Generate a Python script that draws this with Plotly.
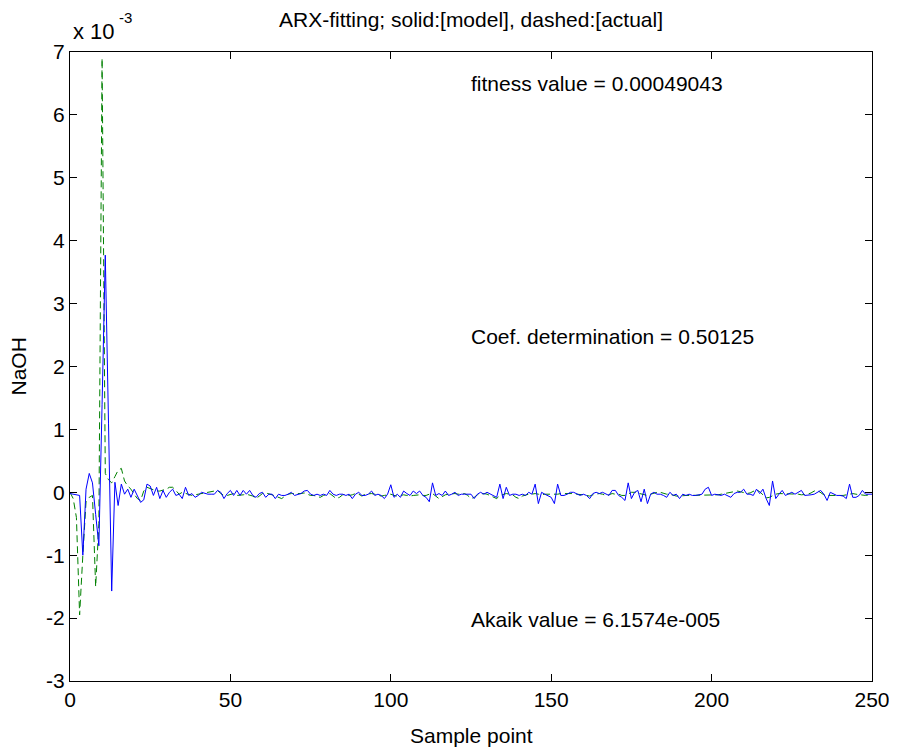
import plotly.graph_objects as go

# sample index
samples = list(range(0, 251))

# model output (solid blue), units of 1e-3
model = [
    -0.02, -0.03, -0.04, -0.05, -1.00, 0.05, 0.30, 0.15, -0.35, -0.85,
    1.40, 3.77, 1.10, -1.57, 0.16, -0.21, 0.13, -0.03, 0.05, -0.08,
    0.05, -0.05, -0.16, -0.12, 0.13, 0.10, -0.05, 0.08, -0.10, 0.03,
    -0.08, 0.00, 0.05, -0.05, -0.03, -0.10, 0.08, -0.05, -0.02, -0.08,
    -0.05, 0.00, -0.02, -0.03, -0.03, -0.03, 0.03, 0.00, -0.10, -0.02,
    0.03, -0.05, 0.03, -0.05, 0.03, -0.03, 0.03, -0.05, -0.08, -0.02,
    0.00, -0.08, -0.03, -0.03, -0.10, -0.03, -0.05, -0.05, -0.03, 0.00,
    -0.05, -0.03, -0.02, 0.02, 0.03, -0.03, -0.05, -0.03, -0.05, -0.03,
    -0.05, 0.03, -0.03, -0.05, -0.03, -0.03, -0.05, -0.03, -0.10, -0.03,
    0.00, -0.05, -0.05, -0.03, 0.02, -0.05, -0.03, -0.05, -0.10, -0.03,
    0.12, -0.08, -0.03, -0.08, 0.02, -0.02, -0.05, 0.02, -0.02, 0.02,
    -0.05, -0.08, -0.15, 0.15, -0.05, -0.02, -0.05, 0.02, -0.05, -0.03,
    0.00, -0.05, -0.03, -0.03, -0.03, -0.03, -0.10, -0.03, 0.00, -0.03,
    0.00, -0.03, -0.05, -0.08, 0.13, -0.10, 0.08, -0.05, -0.03, -0.03,
    -0.05, -0.03, -0.05, 0.00, -0.03, 0.13, -0.18, 0.00, -0.03, -0.05,
    -0.08, -0.18, 0.13, -0.05, -0.05, -0.03, 0.00, 0.00, -0.03, -0.05,
    -0.03, -0.05, -0.10, -0.02, 0.00, -0.02, 0.00, -0.03, -0.05, 0.03,
    0.03, -0.05, -0.08, -0.13, 0.15, -0.10, 0.00, 0.03, -0.15, 0.05,
    -0.18, -0.03, 0.00, -0.03, -0.03, -0.05, -0.08, 0.00, -0.05, -0.03,
    -0.10, -0.03, -0.05, -0.03, -0.05, -0.05, -0.04, -0.03, 0.05, 0.08,
    -0.05, -0.03, -0.04, -0.05, -0.03, -0.05, -0.08, -0.02, 0.00, 0.00,
    0.05, -0.03, -0.03, -0.05, 0.05, -0.02, 0.05, -0.10, -0.21, 0.18,
    -0.10, -0.03, 0.03, -0.05, -0.03, 0.00, -0.03, 0.00, 0.03, -0.05,
    -0.05, -0.04, -0.03, 0.00, 0.03, -0.03, -0.13, 0.00, -0.03, -0.05,
    -0.05, -0.06, -0.10, 0.13, -0.08, -0.08, -0.05, 0.03, -0.03, -0.03,
    -0.03,
]

# measured output (dashed green), units of 1e-3
actual = [
    0.00, -0.10, -0.40, -1.95, -1.00, -0.15, -0.08, -0.05, -1.50, -0.50,
    6.90, 0.30, 0.20, 0.15, 0.25, 0.35, 0.38, 0.18, 0.10, 0.05,
    -0.03, -0.10, -0.13, 0.02, 0.08, 0.06, 0.03, 0.02, 0.02, 0.03,
    0.05, 0.08, 0.08, 0.03, -0.03, 0.00, -0.02, -0.04, -0.05, -0.04,
    -0.03, -0.03, -0.02, -0.01, 0.01, 0.02, 0.03, -0.02, -0.05, -0.05,
    -0.03, -0.02, -0.05, -0.05, -0.04, -0.03, -0.04, -0.06, -0.10, -0.06,
    -0.02, -0.01, -0.02, -0.04, -0.06, -0.08, -0.10, -0.06, -0.03, -0.02,
    -0.02, -0.03, -0.02, -0.01, -0.03, -0.05, -0.05, -0.07, -0.08, -0.05,
    -0.03, -0.02, -0.06, -0.10, -0.08, -0.04, -0.03, -0.05, -0.04, -0.02,
    -0.03, -0.06, -0.03, -0.02, -0.02, -0.03, -0.05, -0.06, -0.05, -0.04,
    -0.03, -0.05, -0.06, -0.05, -0.04, -0.05, -0.06, -0.05, -0.04, -0.04,
    -0.05, -0.05, -0.03, -0.02, -0.06, -0.10, -0.07, -0.04, -0.03, -0.02,
    -0.02, -0.03, -0.02, -0.02, -0.05, -0.10, -0.08, -0.04, -0.03, -0.02,
    -0.03, -0.05, -0.08, -0.10, -0.05, -0.03, -0.02, -0.03, -0.04, -0.08,
    -0.10, -0.06, -0.04, -0.03, -0.03, -0.02, -0.03, -0.04, -0.03, -0.03,
    -0.04, -0.04, -0.03, -0.02, -0.02, -0.02, -0.01, -0.02, -0.03, -0.03,
    -0.04, -0.05, -0.06, -0.04, -0.03, -0.02, -0.03, -0.05, -0.04, -0.02,
    -0.03, -0.03, -0.05, -0.05, -0.03, 0.00, 0.00, -0.01, -0.03, -0.04,
    -0.05, -0.03, -0.01, 0.00, 0.00, -0.02, -0.03, -0.03, -0.05, -0.06,
    -0.06, -0.05, -0.05, -0.05, -0.05, -0.05, -0.04, -0.05, -0.05, -0.04,
    -0.05, -0.05, -0.04, -0.03, -0.02, -0.02, -0.01, 0.00, 0.02, 0.01,
    -0.01, -0.02, -0.01, 0.02, 0.04, 0.01, -0.04, -0.09, -0.08, -0.05,
    -0.03, -0.02, -0.02, -0.03, -0.02, -0.02, -0.02, -0.03, -0.04, -0.04,
    -0.03, -0.01, 0.02, 0.03, 0.00, -0.04, -0.05, -0.05, -0.05, -0.06,
    -0.06, -0.05, -0.04, -0.03, -0.02, -0.03, -0.04, -0.04, -0.05, -0.04,
    -0.03,
]

x_ticks = [0, 50, 100, 150, 200, 250]
y_ticks = [-3, -2, -1, 0, 1, 2, 3, 4, 5, 6, 7]
y_tick_labels = ["-3", "-2", "-1", "0", "1", "2", "3", "4", "5", "6", "7"]

title_text = "ARX-fitting; solid:[model], dashed:[actual]"
x_label = "Sample point"
y_label = "NaOH"
fitness_text = "fitness value = 0.00049043"
coef_text = "Coef. determination = 0.50125"
akaik_text = "Akaik value = 6.1574e-005"
exp_base_text = "x 10"
exp_power_text = "-3"

FONT = "Liberation Sans, Arial, sans-serif"
FS = 21
W, H = 889, 745
ML, MR, MT, MB = 62, 25, 44, 72

fig = go.Figure()
fig.add_trace(go.Scatter(x=samples, y=actual, mode="lines",
                         line=dict(color="#008000", width=1, dash="7px,4px"),
                         name="actual"))
fig.add_trace(go.Scatter(x=samples, y=model, mode="lines",
                         line=dict(color="#0000ff", width=1),
                         name="model"))

axis_common = dict(showline=True, linecolor="black", linewidth=1, mirror="allticks",
                   ticks="inside", ticklen=7, tickcolor="black", showgrid=False,
                   zeroline=False, automargin=False,
                   tickfont=dict(family=FONT, size=FS, color="black"))

fig.update_layout(
    width=W, height=H,
    margin=dict(l=ML, r=MR, t=MT, b=MB, autoexpand=False),
    paper_bgcolor="white", plot_bgcolor="white",
    showlegend=False,
    font=dict(family=FONT, size=FS, color="black"),
    title=dict(text=title_text, x=0.5, xref="paper", xanchor="center",
               y=1 - 12 / H, yanchor="middle",
               font=dict(family=FONT, size=FS, color="black")),
    xaxis=dict(range=[0, 250], tickvals=x_ticks, **axis_common),
    yaxis=dict(range=[-3, 7], tickvals=y_ticks, ticktext=y_tick_labels, **axis_common),
)

# axis titles
fig.add_annotation(x=0.5, y=0, xref="paper", yref="paper", text=x_label,
                   showarrow=False, xanchor="center", yanchor="middle", yshift=-54,
                   font=dict(family=FONT, size=FS, color="black"))
fig.add_annotation(x=0, y=0.5, xref="paper", yref="paper", text=y_label,
                   showarrow=False, xanchor="center", yanchor="middle", xshift=-52,
                   textangle=-90,
                   font=dict(family=FONT, size=FS, color="black"))

for txt, yv in [(fitness_text, 6.5), (coef_text, 2.48), (akaik_text, -2.03)]:
    fig.add_annotation(x=125, y=yv, xref="x", yref="y", text=txt, showarrow=False,
                       xanchor="left", yanchor="middle", xshift=-2,
                       font=dict(family=FONT, size=FS, color="black"))

fig.add_annotation(x=0, y=1, xref="paper", yref="paper", text=exp_base_text,
                   showarrow=False, xanchor="left", yanchor="middle",
                   xshift=1, yshift=21,
                   font=dict(family=FONT, size=22, color="black"))
fig.add_annotation(x=0, y=1, xref="paper", yref="paper", text=exp_power_text,
                   showarrow=False, xanchor="left", yanchor="middle",
                   xshift=47, yshift=35,
                   font=dict(family=FONT, size=15, color="black"))

fig.write_html("out.html")
